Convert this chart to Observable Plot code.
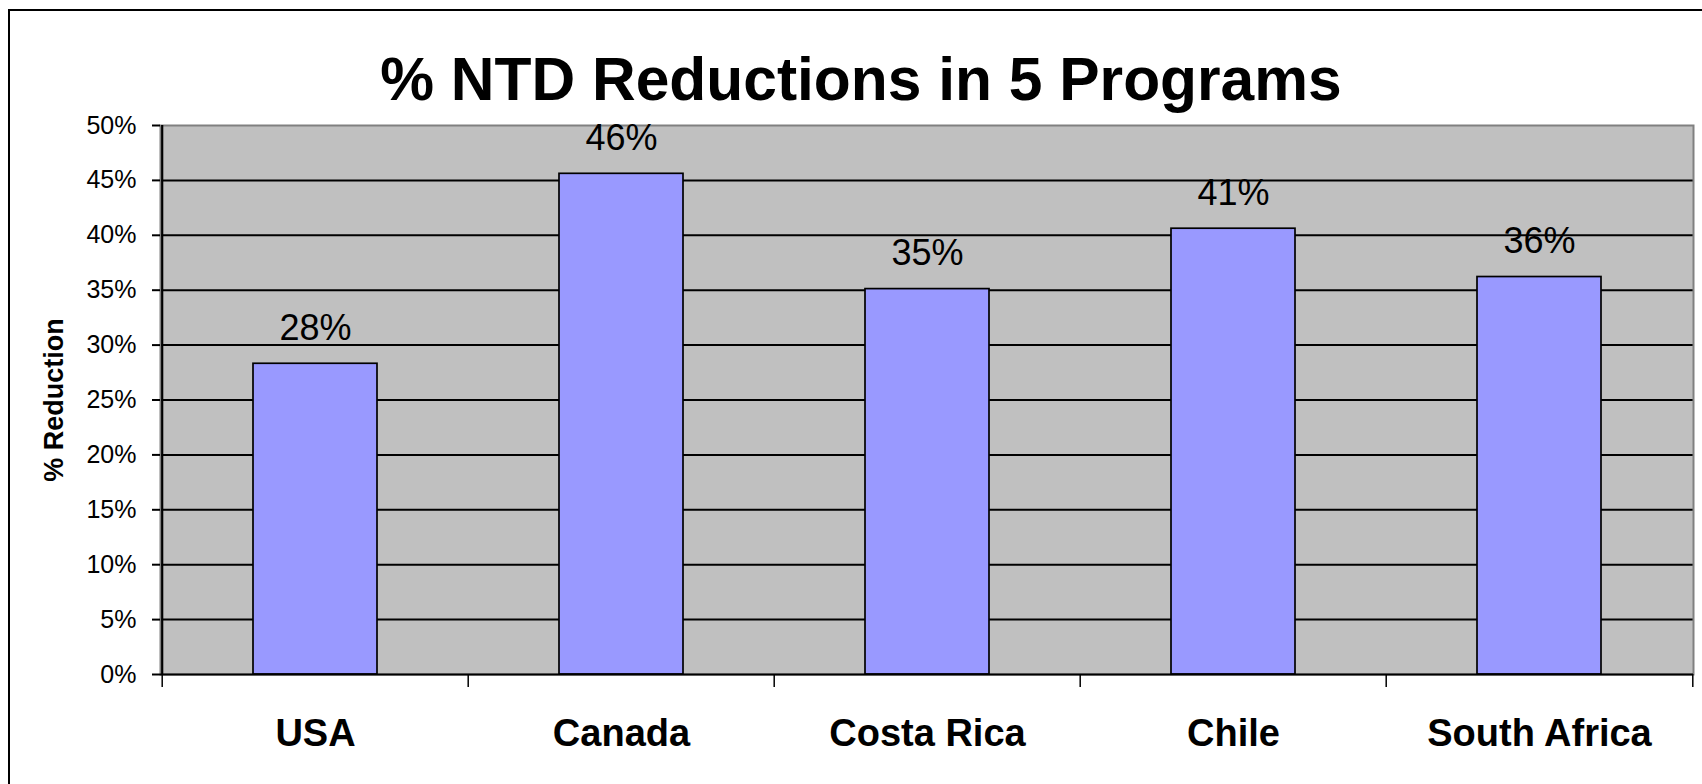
<!DOCTYPE html>
<html><head><meta charset="utf-8">
<script src="https://cdn.jsdelivr.net/npm/d3@7"></script>
<script src="https://cdn.jsdelivr.net/npm/@observablehq/plot@0.6"></script>
<style>
html,body{margin:0;padding:0;background:#fff;overflow:hidden;}
#wrap{position:relative;width:1702px;height:784px;overflow:hidden;font-family:"Liberation Sans",Arial,sans-serif;color:#000;}
#border{position:absolute;left:8px;top:9px;width:3000px;height:3000px;border-left:2px solid #000;border-top:2px solid #000;pointer-events:none;}
#title{box-sizing:border-box;height:115px;padding-top:49px;padding-left:20px;line-height:60px;font-size:60.5px;font-weight:bold;text-align:center;white-space:nowrap;}
#chart svg{display:block;}
</style></head><body>
<div id="wrap"><div id="border"></div><div id="title"></div><div id="chart"></div></div>
<script>
const chartTitle = "% NTD Reductions in 5 Programs";
const yTitle = "% Reduction";
const countries = ["USA", "Canada", "Costa Rica", "Chile", "South Africa"];
const reductions = [0.283, 0.456, 0.351, 0.406, 0.362];
const valueLabels = ["28%", "46%", "35%", "41%", "36%"];
const yTicks = [0, 0.05, 0.10, 0.15, 0.20, 0.25, 0.30, 0.35, 0.40, 0.45, 0.50];
const yTickLabels = ["0%", "5%", "10%", "15%", "20%", "25%", "30%", "35%", "40%", "45%", "50%"];

document.getElementById("title").textContent = chartTitle;

const data = countries.map((c, i) => ({country: c, value: reductions[i], label: valueLabels[i]}));

const W = 1702, H = 669, mL = 160, mR = 9, mT = 10, mB = 110;
const step = (W - mL - mR) / countries.length;

const chart = Plot.plot({
  width: W, height: H,
  marginLeft: mL, marginRight: mR, marginTop: mT, marginBottom: mB,
  style: {fontFamily: "'Liberation Sans', Arial, sans-serif", color: "#000", background: "transparent", overflow: "visible"},
  x: {type: "band", domain: countries, padding: 0, axis: null},
  y: {domain: [0, 0.5], axis: null},
  marks: [
    Plot.frame({fill: "#C0C0C0"}),
    Plot.ruleY(yTicks.filter(t => t > 0 && t < 0.5), {stroke: "#000", strokeWidth: 2}),
    Plot.frame({stroke: "#808080", strokeWidth: 2}),
    Plot.barY(data, {x: "country", y: "value", fill: "#9999FF", stroke: "#000", strokeWidth: 1.7, insetLeft: 91, insetRight: 91}),
    Plot.ruleY([0], {stroke: "#000", strokeWidth: 2.2}),
    Plot.ruleX([countries[0]], {x: d => d, dx: -step / 2, stroke: "#000", strokeWidth: 2.2}),
    Plot.ruleX(countries, {x: d => d, y1: () => 0, y2: () => 0, insetBottom: -13, dx: -step / 2, stroke: "#000", strokeWidth: 1.5}),
    Plot.ruleX([countries[countries.length - 1]], {x: d => d, y1: () => 0, y2: () => 0, insetBottom: -13, dx: step / 2, stroke: "#000", strokeWidth: 1.5}),
    Plot.axisY({ticks: yTicks, tickSize: 8, tickPadding: 16, tickFormat: d => yTickLabels[yTicks.indexOf(d)], fontSize: 25, label: null, strokeWidth: 2}),
    Plot.text(data, {x: "country", y: "value", text: "label", lineAnchor: "bottom", dy: -24, fontSize: 36}),
    Plot.text(countries, {x: d => d, text: d => d, frameAnchor: "bottom", lineAnchor: "bottom", dy: 71, fontSize: 38, fontWeight: "bold"}),
    Plot.text([yTitle], {text: d => d, frameAnchor: "left", textAnchor: "middle", dx: -106, rotate: -90, fontSize: 27, fontWeight: "bold"})
  ]
});
document.getElementById("chart").appendChild(chart);
</script>
</body></html>
